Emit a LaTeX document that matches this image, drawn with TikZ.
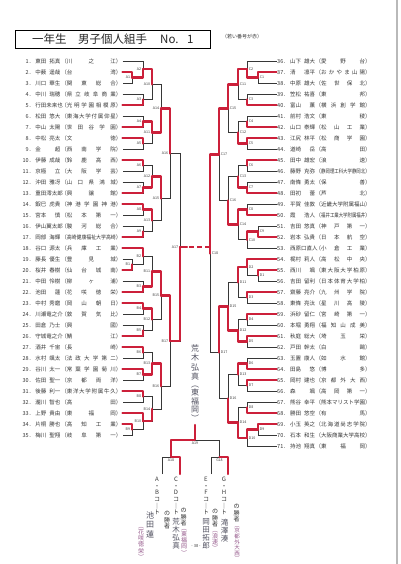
\documentclass[tikz,border=0pt]{standalone}
\usepackage{fontspec}
\usepackage{graphicx}
\setmainfont{Noto Sans CJK JP}
\usetikzlibrary{calc}
\pgfdeclarelayer{redl}
\pgfsetlayers{main,redl}
\definecolor{mk}{RGB}{204,32,58}
\definecolor{ink}{RGB}{55,55,55}
\definecolor{hand}{RGB}{80,80,95}
\definecolor{handp}{RGB}{150,90,140}
\makeatletter
\newcommand\spreadbox[2]{\edef\sp@t{#2}\setbox0\hbox{\sp@t}\ifdim\wd0>#1\relax\resizebox{#1}{\height}{\sp@t}\else\hbox to #1{\expandafter\sp@a\sp@t\relax}\fi}
\def\sp@a#1{#1\sp@b}
\def\sp@b#1{\ifx\relax#1\else\hfil#1\expandafter\sp@b\fi}
\makeatother
\newcommand\lname[4]{\hbox to 14pt{\hfil#1．}\hspace{1pt}\hbox to 25pt{#2\hfil#3}\hspace{1pt}（\spreadbox{49pt}{#4}）}
\newcommand\rname[4]{\hbox to 13pt{#1．\hfil}\hbox to 25pt{#2\hfil#3}\hspace{0.5pt}（\spreadbox{44pt}{#4}）}
\tikzset{
  bl/.style={draw=ink, line width=0.55pt},
  rl/.style={draw=mk, line width=2.4pt, line cap=round, line join=round},
  nm/.style={font=\fontsize{5.5}{6}\selectfont, text=ink, inner sep=0pt},
  labl/.style={anchor=east, font=\fontsize{3.6}{4}\selectfont, text=ink, inner sep=0.3pt, xshift=-1.4pt},
  labr/.style={anchor=west, font=\fontsize{3.6}{4}\selectfont, text=ink, inner sep=0.3pt, xshift=1.4pt},
  labb/.style={anchor=north, font=\fontsize{3.6}{4}\selectfont, text=ink, inner sep=0.3pt, yshift=-1.5pt},
  tt/.style={font=\fontsize{11.5}{12}\selectfont, text=black!85, inner sep=0pt, anchor=west},
  pv/.style={font=\fontsize{6}{6.6}\selectfont, text=ink, inner sep=0pt, align=center, anchor=north},
  hw/.style={font=\fontsize{8}{8.4}\selectfont, text=hand, inner sep=0pt, align=center, anchor=north},
  hws/.style={font=\fontsize{6}{6.2}\selectfont, text=handp, inner sep=0pt, align=center, anchor=north}
}
\newcommand\mt[6]{%
  \coordinate (mx) at (#4,0);
  \coordinate (#1a) at (#2 -| mx);
  \coordinate (#1b) at (#3 -| mx);
  \coordinate (#1) at ($(#1a)!0.5!(#1b)$);
  \draw[bl] (#2) -- (#1a) -- (#1b) -- (#3);
  \begin{pgfonlayer}{redl}
  \ifnum#5=1\relax\draw[rl] (#2) -- (#1a) -- (#1);\else\draw[rl] (#3) -- (#1b) -- (#1);\fi
  \end{pgfonlayer}
  \node[lab#6] (#1l) at (#1) {#1};
}
\begin{document}
\begin{tikzpicture}[x=1pt,y=-1pt]
\useasboundingbox (0,0) rectangle (400,564);
\fill[white] (0,0) rectangle (400,564);
\draw[gray!55, line width=1.3pt] (397,0) -- (397,564);
% title
\node[draw=black, line width=0.9pt, minimum width=195pt, minimum height=18pt, inner sep=0pt, anchor=north west] (tbox) at (15,30) {};
\node[tt] (t1) at (32,39.5) {一年生};
\node[tt] (t2) at (78,39.5) {男子個人組手};
\node[tt] (t3) at (160,39.5) {No.};
\node[tt] (t4) at (187,39.5) {1};
\node[font=\fontsize{5}{5}\selectfont, text=ink, inner sep=0pt, anchor=west] (note) at (222,37) {（若い番号が赤）};
% left entries
\foreach \eI/\eF/\eG/\eS in {1/東田/拓真/川之江, 2/中薮/遥哉/台湾, 3/川口/華生/関東総合, 4/中川/瑞穂/県立岐阜商業, 5/行田/未来也/光明学園相模原, 6/松田/悠大/東海大学付属仰星, 7/中山/太陽/世田谷学園, 8/中松/亮太/文徳, 9/金/超/西南学院, 10/伊藤/成哉/鈴鹿高西, 11/京極/立/大阪学芸, 12/沖田/雅冴/山口県鴻城, 13/重田/澪太郎/興譲館, 14/鍜巳/虎貴/神港学園神港, 15/宮本/慎/松本第一, 16/伊山/翼太郎/駿河総合, 17/岡部/海輝/高崎健康福祉大学高崎, 18/谷口/源太/兵庫工業, 19/藤長/優生/豊見城, 20/桜井/春樹/仙台城南, 21/中田/怜樹/柳ヶ浦, 22/池田/蓮/花咲徳栄, 23/中村/秀磨/岡山朝日, 24/川瀬/竜之介/敦賀気比, 25/田倉/乃士/興國, 26/守城/竜之介/鯖江, 27/酒井/千宙/長崎, 28/水村/颯太/法政大学第二, 29/谷川/太一/常葉学園菊川, 30/佐田/聖一/京都両洋, 31/後藤/利一/東洋大学附属牛久, 32/瀧川/智也/高田, 33/上野/貴由/東福岡, 34/片桐/勝也/高知工業, 35/梅川/聖翔/岐阜第一}{
  \pgfmathsetmacro\yy{61+11*(\eI-1)}
  \node[nm, anchor=east] (n\eI) at (121.5,\yy) {\lname{\eI}{\eF}{\eG}{\eS}};
  \coordinate (L\eI) at (122.5,\yy);
}
% right entries
\foreach \eI/\eF/\eG/\eS in {36/山下/雄大/愛野台, 37/清/凛平/おかやま山陽, 38/中原/雄大/佐世保北, 39/笠松/祐喜/東邦, 40/富山/薫/横浜創学館, 41/前村/浩文/東稜, 42/山口/泰輝/松山工業, 43/江尻/林平/松商学園, 44/道崎/岳/高田, 45/田中/雄宏/浪速, 46/藤野/克弥/静岡理工科大学静岡北, 47/南條/勇太/保善, 48/田初/蕾/芦北, 49/平賀/佳敦/近畿大学附属福山, 50/霞/浩人/福井工業大学附属福井, 51/吉田/悠真/神戸第一, 52/岩本/弘貴/日本航空, 53/西原口/直人/小倉工業, 54/梶村/莉人/高松中央, 55/西川/颯/東大阪大学柏原, 56/吉田/留利/日本体育大学柏, 57/齋藤/亮介/九州学院, 58/東條/亮汰/星川高陵, 59/浜砂/留仁/宮崎第一, 60/本堀/勇翔/福知山成美, 61/秋庭/総大/埼玉栄, 62/戸田/幹太/白鷗, 63/玉置/康人/如水館, 64/田島/悠/博多, 65/岡村/建也/京都外大西, 66/森/颯/高岡第一, 67/熊谷/幸平/熊本マリスト学園, 68/勝田/悠空/有馬, 69/小玉/英之/北海道尚志学院, 70/石本/和生/大阪商業大学高校, 71/持池/翔真/東福岡}{
  \pgfmathsetmacro\yy{61+11*(\eI-36)}
  \node[nm, anchor=west] (n\eI) at (277,\yy) {\rname{\eI}{\eF}{\eG}{\eS}};
  \coordinate (R\eI) at (276.5,\yy);
}
% A side
\mt{A1}{L2}{L3}{132}{1}{l}
\mt{A2}{L1}{A1}{143}{2}{l}
\mt{A3}{L4}{L5}{143}{2}{l}
\mt{A4}{L6}{L7}{143}{2}{l}
\mt{A5}{L8}{L9}{143}{1}{l}
\mt{A6}{L10}{L11}{143}{1}{l}
\mt{A7}{L12}{L13}{143}{2}{l}
\mt{A8}{L14}{L15}{143}{1}{l}
\mt{A9}{L16}{L17}{143}{2}{l}
\mt{A10}{A2}{A3}{152}{1}{l}
\mt{A11}{A4}{A5}{152}{1}{l}
\mt{A12}{A6}{A7}{152}{2}{l}
\mt{A13}{A8}{A9}{152}{1}{l}
\mt{A14}{A10}{A11}{161}{2}{l}
\mt{A15}{A12}{A13}{161}{1}{l}
\mt{A16}{A14}{A15}{170}{1}{l}
% B side
\mt{B1}{L19}{L20}{132}{2}{l}
\mt{B2}{L18}{B1}{143}{1}{l}
\mt{B3}{L21}{L22}{143}{2}{l}
\mt{B4}{L23}{L24}{143}{1}{l}
\mt{B5}{L25}{L26}{143}{2}{l}
\mt{B6}{L27}{L28}{143}{1}{l}
\mt{B7}{L29}{L30}{143}{1}{l}
\mt{B8}{L31}{L32}{143}{1}{l}
\mt{B9}{L34}{L35}{132}{1}{l}
\mt{B10}{L33}{B9}{143}{1}{l}
\mt{B11}{B2}{B3}{152}{2}{l}
\mt{B12}{B4}{B5}{152}{1}{l}
\mt{B13}{B6}{B7}{152}{2}{l}
\mt{B14}{B8}{B10}{152}{2}{l}
\mt{B15}{B11}{B12}{161}{1}{l}
\mt{B16}{B13}{B14}{161}{1}{l}
\mt{B17}{B15}{B16}{170}{1}{l}
\mt{A17}{A16}{B17}{180}{2}{l}
% C side
\mt{C1}{R37}{R38}{258}{1}{r}
\mt{C2}{R36}{C1}{247}{2}{r}
\mt{C3}{R39}{R40}{247}{2}{r}
\mt{C4}{R41}{R42}{247}{2}{r}
\mt{C5}{R43}{R44}{247}{1}{r}
\mt{C6}{R45}{R46}{247}{1}{r}
\mt{C7}{R47}{R48}{247}{2}{r}
\mt{C8}{R49}{R50}{247}{2}{r}
\mt{C9}{R51}{R52}{258}{2}{r}
\mt{C10}{C9}{R53}{247}{1}{r}
\mt{C11}{C2}{C3}{238}{1}{r}
\mt{C12}{C4}{C5}{238}{2}{r}
\mt{C13}{C6}{C7}{238}{2}{r}
\mt{C14}{C8}{C10}{238}{1}{r}
\mt{C15}{C11}{C12}{228}{1}{r}
\mt{C16}{C13}{C14}{228}{2}{r}
\mt{C17}{C15}{C16}{219}{1}{r}
% D side
\mt{D1}{R55}{R56}{258}{1}{r}
\mt{D2}{R54}{D1}{247}{1}{r}
\mt{D3}{R57}{R58}{247}{1}{r}
\mt{D4}{R59}{R60}{247}{1}{r}
\mt{D5}{R61}{R62}{247}{1}{r}
\mt{D6}{R63}{R64}{247}{2}{r}
\mt{D7}{R65}{R66}{247}{1}{r}
\mt{D8}{R67}{R68}{247}{2}{r}
\mt{D9}{R69}{R70}{258}{1}{r}
\mt{D10}{D9}{R71}{247}{1}{r}
\mt{D11}{D2}{D3}{238}{1}{r}
\mt{D12}{D4}{D5}{238}{2}{r}
\mt{D13}{D6}{D7}{238}{1}{r}
\mt{D14}{D8}{D10}{238}{2}{r}
\mt{D15}{D11}{D12}{228}{2}{r}
\mt{D16}{D13}{D14}{228}{2}{r}
\mt{D17}{D15}{D16}{219}{1}{r}
\mt{C18}{C17}{D17}{210}{1}{r}
% centre marks
\coordinate (cm1) at ($(A17)+(7,0)$);
\coordinate (cm2) at ($(A17)+(9,0)$);
\coordinate (cm3) at ($(A17 -| C18)$);
\begin{pgfonlayer}{redl}
\draw[rl] (A17) -- (cm1);
\draw[rl, line cap=butt, dash pattern=on 5pt off 3pt] (cm2) -- (cm3);
\end{pgfonlayer}
\node[hw] (champ) at (195,345) {荒\\木\\[2pt]弘\\真\\︵\\東\\福\\岡\\︶};
% final bracket
\coordinate (ab) at (162,474);
\coordinate (cd) at (180,474);
\coordinate (ef) at (211,474);
\coordinate (gh) at (228,474);
\coordinate (F18L) at (171,457);
\coordinate (F18R) at (219.5,457);
\coordinate (F19) at (195,440);
\coordinate (Ftop) at (195,425);
\draw[bl] (ab) -- (ab |- F18L) -- (cd |- F18L) -- (cd);
\draw[bl] (ef) -- (ef |- F18R) -- (gh |- F18R) -- (gh);
\draw[bl] (F18L) -- (F18L |- F19) -- (F18R |- F19) -- (F18R);
\draw[bl] (F19) -- (Ftop);
\begin{pgfonlayer}{redl}
\draw[rl] (cd) -- (cd |- F18L) -- (F18L) -- (F18L |- F19) -- (F19) -- (Ftop);
\draw[rl] (gh) -- (gh |- F18R) -- (F18R);
\end{pgfonlayer}
\node[labb] (lA18) at (F18L) {A18};
\node[labb] (lG18) at (F18R) {G18};
\node[labb] (lA19) at (F19) {A19};
% court texts
\node[pv] (cab) at (157,477) {A\\・\\B\\コ\\｜\\ト};
\node[pv] (cab2) at (167,511) {の\\勝\\者};
\node[pv] (ccd) at (176,477) {C\\・\\D\\コ\\｜\\ト};
\node[pv] (ccd2) at (183.5,508) {の\\勝\\者};
\node[pv] (cef) at (206,477) {E\\・\\F\\コ\\｜\\ト};
\node[pv] (cef2) at (215,509) {の\\勝\\者};
\node[pv] (cgh) at (224,477) {G\\・\\H\\コ\\｜\\ト};
\node[pv] (cgh2) at (236.5,504) {の\\勝\\者};
% handwriting
\node[hw] (hab) at (150,512) {池\\田\\[2pt]蓮};
\node[hws] (hab2) at (141,527) {︵\\花\\咲\\徳\\栄\\︶};
\node[hw, font=\fontsize{7.5}{8}\selectfont] (hcd) at (176,518) {荒\\木\\弘\\真};
\node[hws] (hcd2) at (184,529) {︵\\東\\福\\岡\\︶};
\node[hw, font=\fontsize{7.5}{8}\selectfont] (hef) at (206,518) {岡\\田\\拓\\郎};
\node[hws] (hef2) at (215,531) {︵\\浪\\速\\︶};
\node[hw, font=\fontsize{7.5}{8}\selectfont] (hgh) at (224.5,519) {滝\\澤\\湊};
\node[hws, font=\fontsize{5.5}{5.6}\selectfont] (hgh2) at (237,526) {︵\\京\\都\\外\\大\\西\\︶};
\node[font=\fontsize{4}{4}\selectfont, text=ink, inner sep=0pt] (pg) at (196,546) {- 38 -};
\end{tikzpicture}
\end{document}
